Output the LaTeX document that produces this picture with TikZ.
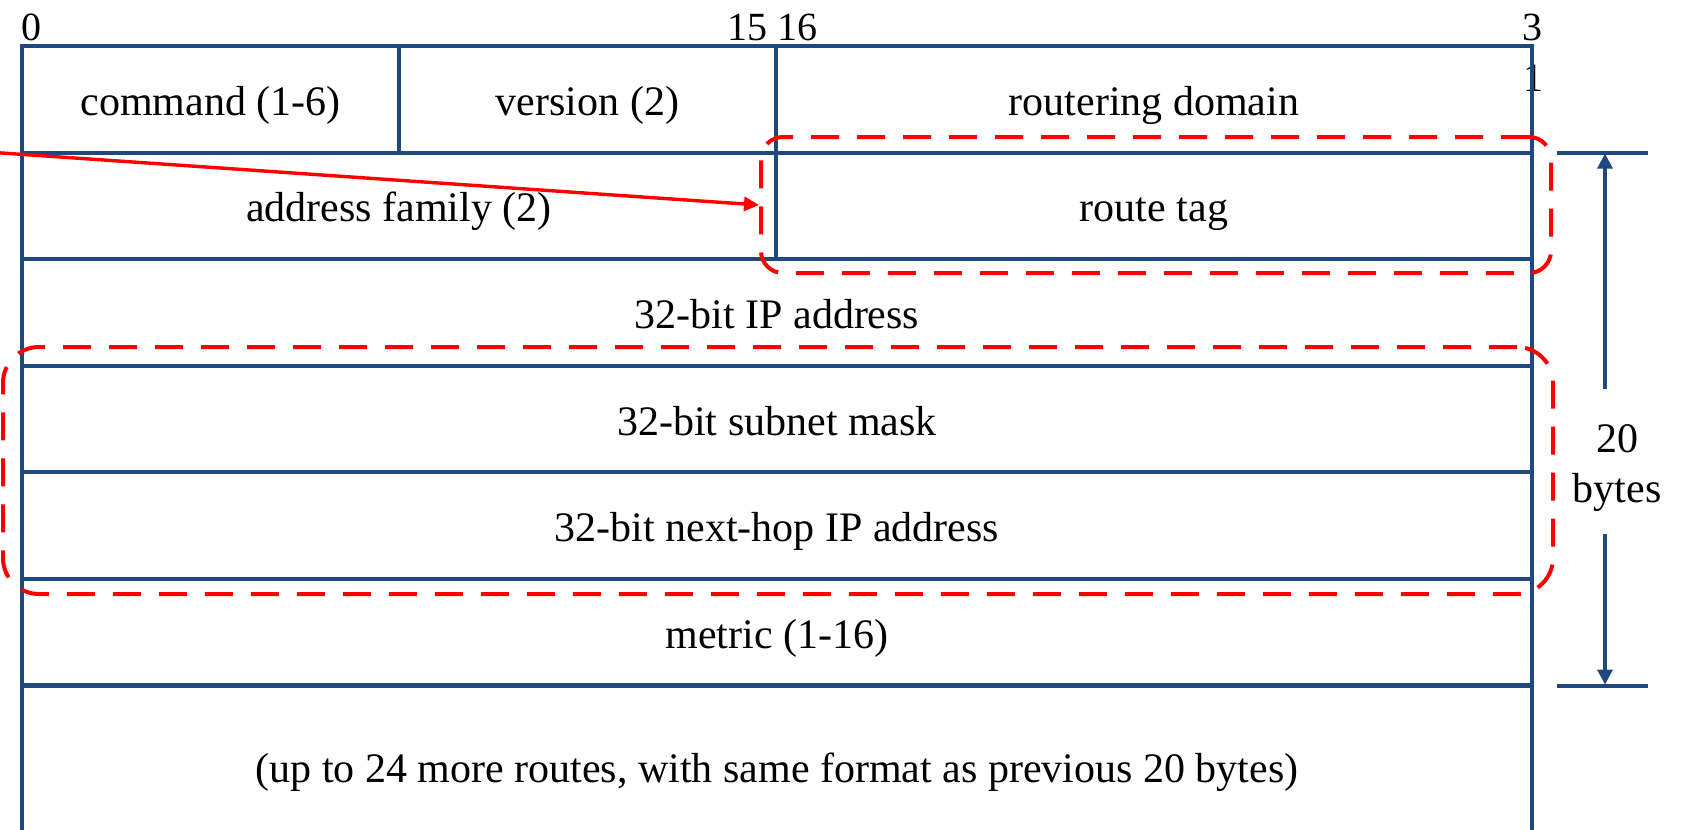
\documentclass[tikz,border=0pt]{standalone}
\usepackage{fontspec}
\setmainfont{Liberation Serif}
\usetikzlibrary{arrows.meta}
\definecolor{frameblue}{HTML}{1F497D}

\begin{document}
\begin{tikzpicture}[x=0.5pt,y=-0.5pt,
  field/.style={draw=frameblue, line width=2pt, inner sep=0pt,
    minimum height=53.3pt, text height=16pt, text depth=0pt,
    font=\fontsize{21}{25}\selectfont},
  bitnum/.style={inner sep=0pt, anchor=base, font=\fontsize{20}{24}\selectfont},
  dimtext/.style={inner sep=0pt, anchor=base, font=\fontsize{21}{25}\selectfont},
  dashgroup/.style={draw=red, line width=2pt, dash pattern=on 14pt off 9pt,
    rounded corners=#1, inner sep=0pt},
  pointer/.style={draw=red, line width=1.7pt, -{Triangle[length=7.5pt,width=7pt]}},
  dimtick/.style={draw=frameblue, line width=2pt},
  dimarrow/.style={draw=frameblue, line width=1.7pt, -{Triangle[length=7.5pt,width=7.5pt]}}
]
\useasboundingbox (0,0) rectangle (1683,830);
\clip (0,0) rectangle (1683,830);

% bit positions above the header
\node[bitnum] (b0)  at (31,40)   {0};
\node[bitnum] (b15) at (772,40)  {15 16};
\node[bitnum] (b31a) at (1532,40) {3};
\node[bitnum] (b31b) at (1533,91) {1};

% header row
\node[field, minimum width=188.5pt] (cmd) at (210.5,99.3)  {command (1-6)};
\node[field, minimum width=188.5pt] (ver) at (587.5,99.3)  {version (2)};
\node[field, minimum width=378pt]   (dom) at (1154,99.3)   {routering domain};

% route entry
\node[field, minimum width=377pt] (fam)    at (399,205.9)  {address family (2)};
\node[field, minimum width=378pt] (tag)    at (1154,205.9) {route tag};
\node[field, minimum width=755pt] (ip)     at (777,312.5)  {32-bit IP address};
\node[field, minimum width=755pt] (mask)   at (777,419.1)  {32-bit subnet mask};
\node[field, minimum width=755pt] (hop)    at (777,525.7)  {32-bit next-hop IP address};
\node[field, minimum width=755pt, line width=2.3pt] (metric) at (777,632.3)  {metric (1-16)};
\node[field, minimum width=755pt, minimum height=81pt] (more) at (777,766.6)
  {(up to 24 more routes, with same format as previous 20 bytes)};

% highlighted groups
\node[dashgroup=11pt, minimum width=395pt, minimum height=68pt] (tagbox) at (1156,205) {};
\node[dashgroup=18pt, minimum width=775pt, minimum height=123.5pt] (midbox) at (778,470.5) {};

% pointer into the route tag group
\coordinate (src) at (-4,152.6);
\draw[pointer] (src) -- (tagbox.west);

% 20-byte dimension
\coordinate (t1a) at (1557,152.6);
\coordinate (t1b) at (1648,152.6);
\coordinate (t2a) at (1557,685.6);
\coordinate (t2b) at (1648,685.6);
\draw[dimtick] (t1a) -- (t1b);
\draw[dimtick] (t2a) -- (t2b);
\node[dimtext] (dimnum)  at (1617,452) {20};
\node[dimtext] (dimunit) at (1617,502) {bytes};
\coordinate (upfrom) at (1605,389);
\coordinate (upto)   at (1605,153.6);
\coordinate (dnfrom) at (1605,534);
\coordinate (dnto)   at (1605,684.6);
\draw[dimarrow] (upfrom) -- (upto);
\draw[dimarrow] (dnfrom) -- (dnto);
\end{tikzpicture}
\end{document}
